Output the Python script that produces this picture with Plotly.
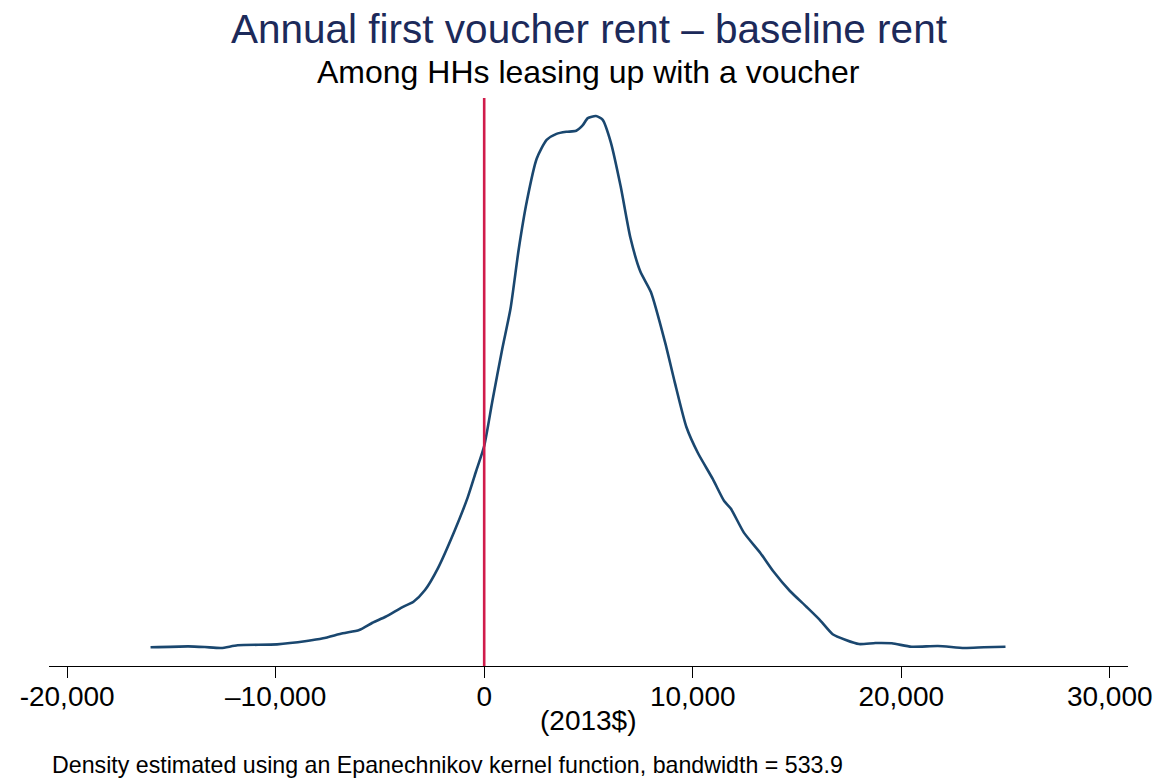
import plotly.graph_objects as go

# Kernel density estimate (density in units of 1e-5)
rent_diff = [-16000, -14190, -13400, -12615, -11825, -9933, -8514, -7724, -6778, -5993,
             -5359, -4730, -3940, -3391, -2838, -2209, -1419, -790, -393, 0,
             393, 866, 1263, 1656, 2048, 2521, 2994, 3467, 3940, 4413,
             4730, 4967, 5359, 5676, 6069, 6542, 7015, 7488, 7994, 8670,
             9143, 9697, 10250, 10960, 11508, 11825, 12454, 13244, 13873, 14663,
             15453, 16082, 16711, 17345, 17974, 18764, 19550, 20496, 21758, 23021,
             23967, 25000]
density = [0.073, 0.092, 0.079, 0.059, 0.112, 0.131, 0.196, 0.249, 0.347, 0.412,
           0.555, 0.673, 0.858, 0.968, 1.197, 1.633, 2.361, 3.015, 3.523, 4.023,
           4.907, 5.927, 6.722, 7.886, 8.832, 9.666, 10.03, 10.15, 10.19, 10.21,
           10.32, 10.46, 10.50, 10.43, 9.99, 9.126, 8.105, 7.448, 7.046, 6.066,
           5.268, 4.396, 3.886, 3.378, 2.944, 2.797, 2.324, 1.925, 1.560, 1.178,
           0.869, 0.616, 0.330, 0.216, 0.137, 0.157, 0.151, 0.084, 0.098, 0.059,
           0.073, 0.084]
density = [d * 1e-5 for d in density]

tick_vals = [-20000, -10000, 0, 10000, 20000, 30000]
tick_text = ["-20,000", "\u201310,000", "0", "10,000", "20,000", "30,000"]
ref_line_x = 0

title_text = "Annual first voucher rent \u2013 baseline rent"
subtitle_text = "Among HHs leasing up with a voucher"
x_title = "(2013$)"
note_text = "Density estimated using an Epanechnikov kernel function, bandwidth = 533.9"

FONT = "Liberation Sans, Arial, Helvetica, sans-serif"

fig = go.Figure()
fig.add_trace(go.Scatter(
    x=rent_diff, y=density, mode="lines",
    line=dict(color="#1a476f", width=2.6, shape="spline", smoothing=0.6),
    hoverinfo="skip", showlegend=False,
))

fig.add_shape(type="line", xref="x", yref="paper", x0=ref_line_x, x1=ref_line_x,
              y0=0, y1=1, line=dict(color="#d01c4b", width=2.6))

fig.update_layout(
    width=1156, height=771,
    margin=dict(l=30, r=32, t=90, b=113),
    paper_bgcolor="white", plot_bgcolor="white",
    font=dict(family=FONT, color="black"),
    showlegend=False,
    xaxis=dict(
        range=[-20870, 30875],
        tickvals=tick_vals, ticktext=tick_text,
        showgrid=False, zeroline=False,
        showline=True, linecolor="black", linewidth=1.3,
        ticks="outside", ticklen=11, tickwidth=1.3, tickcolor="black",
        ticklabelstandoff=-6,
        ticklabeloverflow="allow",
        tickfont=dict(size=28, color="black", family=FONT),
    ),
    yaxis=dict(
        range=[-0.294e-5, 10.854e-5],
        visible=False, showgrid=False, zeroline=False,
    ),
    annotations=[
        dict(text=title_text, xref="paper", yref="paper", x=0.5, y=1.122,
             xanchor="center", yanchor="middle", showarrow=False,
             font=dict(size=40.5, color="#1c2a5a", family=FONT)),
        dict(text=subtitle_text, xref="paper", yref="paper", x=0.5, y=1.0458,
             xanchor="center", yanchor="middle", showarrow=False,
             font=dict(size=32, color="black", family=FONT)),
        dict(text=x_title, xref="paper", yref="paper", x=0.5, y=-0.0951,
             xanchor="center", yanchor="middle", showarrow=False,
             font=dict(size=28, color="black", family=FONT)),
        dict(text=note_text, xref="paper", yref="paper", x=0.0, xshift=1, y=-0.1743,
             xanchor="left", yanchor="middle", showarrow=False,
             font=dict(size=23.2, color="black", family=FONT)),
    ],
)

fig.write_html("out.html")
